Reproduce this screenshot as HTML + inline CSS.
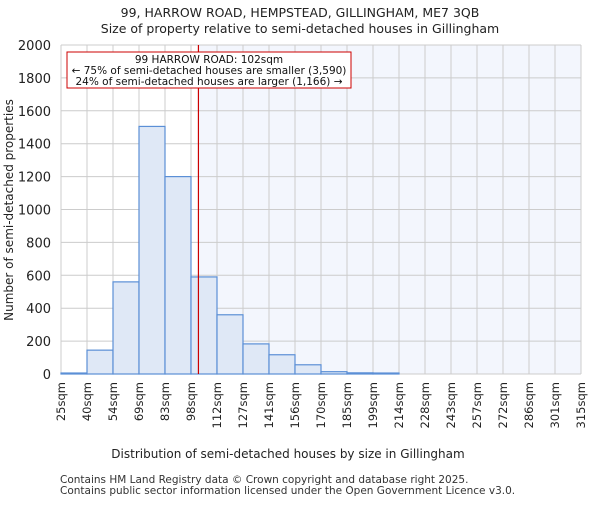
<!DOCTYPE html>
<html><head><meta charset="utf-8"><style>body{margin:0;background:#fff}svg{font-family:"DejaVu Sans","Liberation Sans",sans-serif}</style></head>
<body>
<svg id="c" width="600" height="500" viewBox="0 0 600 500">
<text x="300" y="17" text-anchor="middle" font-size="12.5" fill="#222">99, HARROW ROAD, HEMPSTEAD, GILLINGHAM, ME7 3QB</text>
<text x="300" y="33" text-anchor="middle" font-size="12.5" fill="#222">Size of property relative to semi-detached houses in Gillingham</text>
<g id="plot"></g>
<text x="288" y="458" text-anchor="middle" font-size="12" fill="#222">Distribution of semi-detached houses by size in Gillingham</text>
<text transform="translate(13,210) rotate(-90)" text-anchor="middle" font-size="12" fill="#222">Number of semi-detached properties</text>
<text x="60" y="483" font-size="10.5" fill="#333">Contains HM Land Registry data © Crown copyright and database right 2025.</text>
<text x="60" y="494" font-size="10.5" fill="#333">Contains public sector information licensed under the Open Government Licence v3.0.</text>
</svg>
<script>
const binLabels=["25sqm","40sqm","54sqm","69sqm","83sqm","98sqm","112sqm","127sqm","141sqm","156sqm","170sqm","185sqm","199sqm","214sqm","228sqm","243sqm","257sqm","272sqm","286sqm","301sqm","315sqm"];
const binEdges=[25,40,54,69,83,98,112,127,141,156,170,185,199,214,228,243,257,272,286,301,315];
const counts=[6,145,560,1505,1200,590,360,183,117,56,14,7,6,0,0,0,0,0,0,0];
const yTicks=[0,200,400,600,800,1000,1200,1400,1600,1800,2000];
const marker=102;
const L=61,R=581,T=45,B=374,yMax=2000;
const NS="http://www.w3.org/2000/svg";
const g=document.getElementById('plot');
const nb=counts.length,bw=(R-L)/nb;
function xi(i){return L+i*bw;}
function xv(v){for(let i=0;i<nb;i++){if(v<=binEdges[i+1])return xi(i)+(v-binEdges[i])/(binEdges[i+1]-binEdges[i])*bw;}return R;}
function y(v){return B-v/yMax*(B-T);}
function mk(t,a,p){const e=document.createElementNS(NS,t);for(const k in a)e.setAttribute(k,a[k]);(p||g).appendChild(e);return e;}
const mx=xv(marker);
let e=mk('rect',{x:mx,y:T,width:R-mx,height:B-T,fill:'#f3f6fd'});


for(const t of yTicks){
 e=mk('line',{x1:L,x2:R,y1:y(t),y2:y(t),stroke:'#cccccc'});
 
 
 e=mk('text',{x:L-10,y:y(t)+5,'text-anchor':'end','font-size':'13',fill:'#222'});e.textContent=t;
 
 
}
for(let i=0;i<=nb;i++){
 e=mk('line',{x1:xi(i),x2:xi(i),y1:T,y2:B,stroke:'#cccccc'});
 
 
 e=mk('text',{transform:`translate(${xi(i)+4},${B+8}) rotate(-90)`,'text-anchor':'end','font-size':'11.5',fill:'#222'});e.textContent=binLabels[i];
 
 
}
counts.forEach((c,i)=>{
 e=mk('rect',{x:xi(i),y:y(c),width:bw,height:B-y(c),fill:'#dfe8f6',stroke:'#5b8fd6','stroke-width':1.2});
 
 
});
e=mk('line',{x1:mx,x2:mx,y1:T,y2:B,stroke:'#cc0000','stroke-width':1.2});


e=mk('rect',{x:67,y:52,width:284,height:36,fill:'#fff',stroke:'#cc0000'});


const lines=["99 HARROW ROAD: 102sqm","← 75% of semi-detached houses are smaller (3,590)","24% of semi-detached houses are larger (1,166) →"];
lines.forEach((s,k)=>{e=mk('text',{x:209,y:63+k*11,'text-anchor':'middle','font-size':'10.5',fill:'#111'});e.textContent=s;
 
 });
</script>
</body></html>
